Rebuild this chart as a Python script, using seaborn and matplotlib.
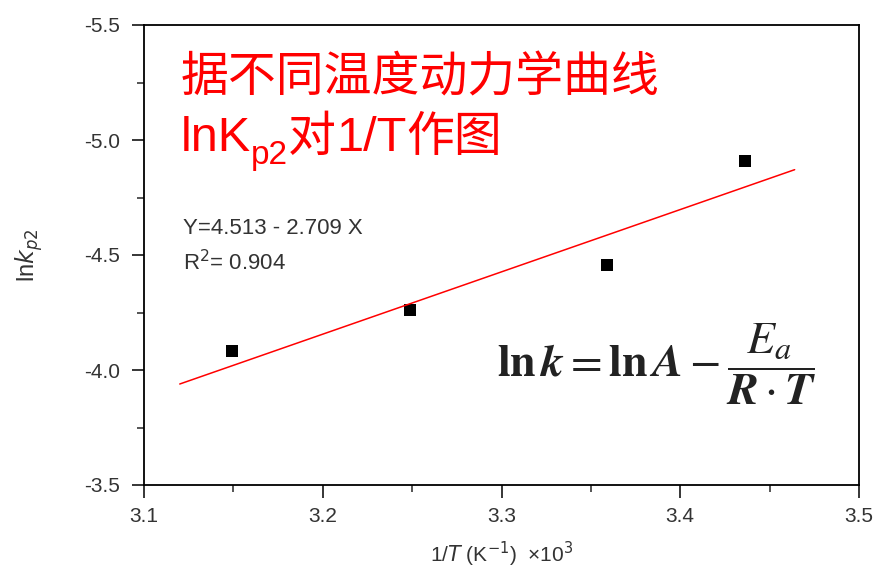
import matplotlib
matplotlib.use("Agg")
import matplotlib.pyplot as plt
import seaborn as sns
import numpy as np
import pandas as pd
from matplotlib.ticker import MultipleLocator

# ---- data ----
inv_T = [3.149, 3.249, 3.359, 3.436]          # 1/T x10^3 (K^-1)
ln_k = [-4.083, -4.261, -4.457, -4.909]       # ln k_p2
fit_intercept = 4.513
fit_slope = -2.709
fit_x_range = [3.12, 3.464]
x_ticks = [3.1, 3.2, 3.3, 3.4, 3.5]
y_ticks = [-5.5, -5.0, -4.5, -4.0, -3.5]

sns.set_style("white")
plt.rcParams['font.family'] = ['Liberation Sans', 'Noto Sans CJK SC', 'DejaVu Sans']

W, H = 878, 570
fig = plt.figure(figsize=(W/100, H/100), dpi=100)
ax = fig.add_axes([144/W, 1-485/H, (859-144)/W, (485-25)/H])

df = pd.DataFrame({"x": inv_T, "y": ln_k})
fit_df = pd.DataFrame({"x": fit_x_range,
                       "y": [fit_intercept + fit_slope * v for v in fit_x_range]})

sns.lineplot(data=fit_df, x="x", y="y", ax=ax, color="#ff0000", linewidth=1.1)
sns.scatterplot(data=df, x="x", y="y", ax=ax, marker="s", color="black",
                s=70, edgecolor="black", linewidth=0)

ax.set_xlim(3.1, 3.5)
ax.set_ylim(-3.5, -5.5)
ax.set_xticks(x_ticks)
ax.set_yticks(y_ticks)
ax.set_xticklabels([f"{v:.1f}" for v in x_ticks])
ax.set_yticklabels([f"{v:.1f}" for v in y_ticks])
ax.xaxis.set_minor_locator(MultipleLocator(0.05))
ax.yaxis.set_minor_locator(MultipleLocator(0.25))
ax.tick_params(which="major", direction="out", length=9, width=1.1,
               labelsize=15, labelcolor="#333333", color="black",
               bottom=True, left=True)
ax.tick_params(axis="y", which="major", pad=8)
ax.tick_params(axis="x", which="major", pad=7)
ax.tick_params(which="minor", direction="out", length=5, width=1.1,
               bottom=True, left=True)
for s in ax.spines.values():
    s.set_visible(True)
    s.set_color("black")
    s.set_linewidth(1.3)

ax.set_xlabel(r"1/$\it{T}$ (K$^{-1}$)  ×10$^{3}$", fontsize=15, color="#333333", labelpad=10)
ax.set_ylabel(r"ln$\it{k}_{p2}$", fontsize=17, color="#333333", labelpad=28)

# fit annotation
fig.text(183/W, 1-228/H, "Y=4.513 - 2.709 X", fontsize=16, color="#333333",
         va="center", ha="left")
fig.text(183/W, 1-263/H, r"R$^{2}$= 0.904", fontsize=16, color="#333333",
         va="center", ha="left")

# red title text
fig.text(181/W, 1-78/H, "据不同温度动力学曲线", fontsize=34.5, color="#ff0000",
         va="center", ha="left", family=['Noto Sans CJK SC', 'DejaVu Sans'])

fig.canvas.draw()
renderer = fig.canvas.get_renderer()
pieces = [("lnK", 35, ['Liberation Sans'], 0),
          ("p2", 24, ['Liberation Sans'], 13),
          ("对", 34.5, ['Noto Sans CJK SC'], 0),
          ("1/T", 35, ['Liberation Sans'], 0),
          ("作图", 34.5, ['Noto Sans CJK SC'], 0)]
x_px = 181
base_px = 151
for txt, fs, fam, drop in pieces:
    t = fig.text(x_px/W, 1-(base_px+drop)/H, txt, fontsize=fs, color="#ff0000",
                 va="baseline", ha="left", family=fam)
    bb = t.get_window_extent(renderer)
    x_px += bb.width

# equation
plt.rcParams['mathtext.fontset'] = 'stix'
fig.text(497/W, 1-364/H,
         r"$\mathbf{ln}\,\boldsymbol{k}=\mathbf{ln}\,\boldsymbol{A}-\dfrac{\boldsymbol{E_a}}{\boldsymbol{R}\cdot\boldsymbol{T}}$",
         fontsize=33, color="#222222", va="center", ha="left")

fig.savefig("out.png", dpi=100)
